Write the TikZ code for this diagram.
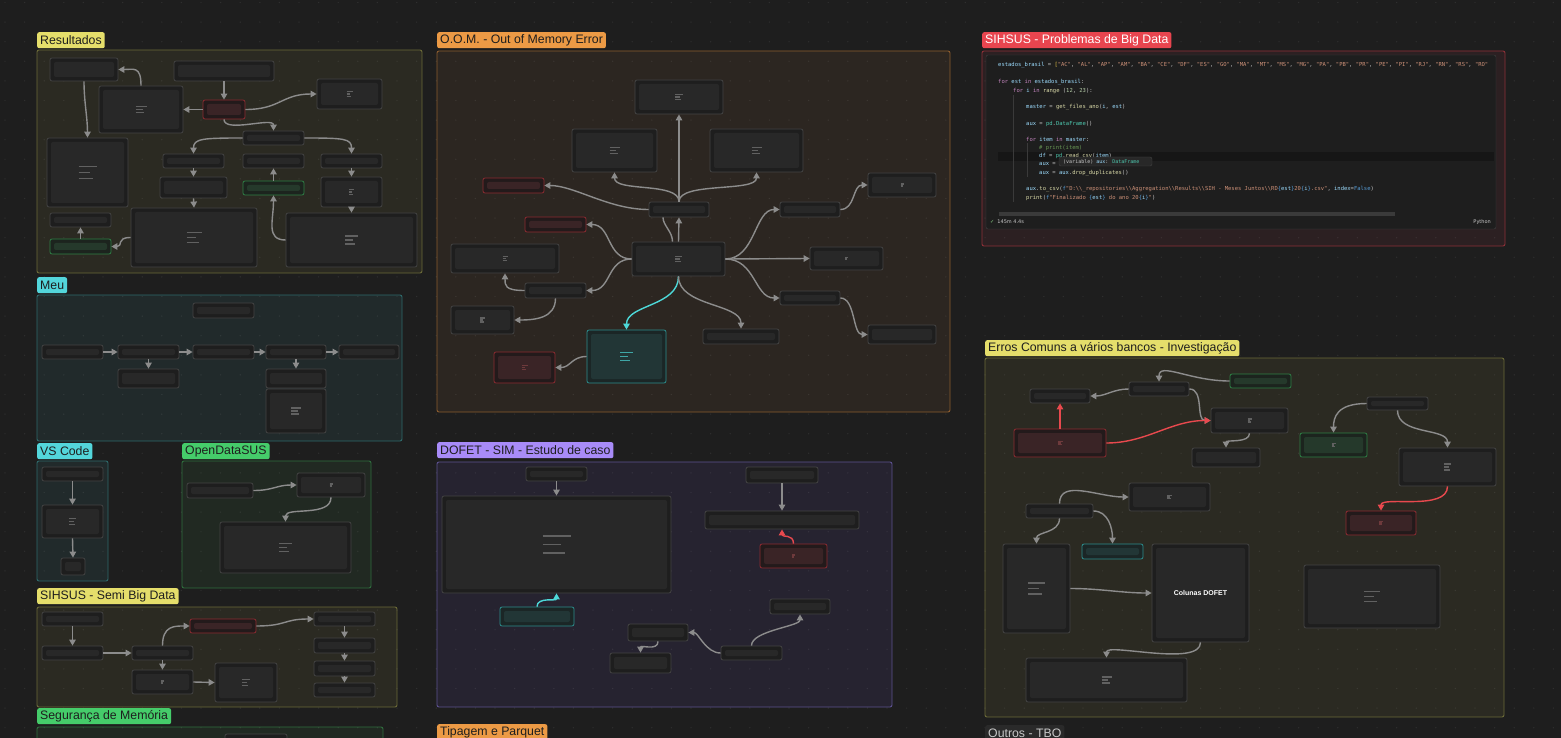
\documentclass[tikz,border=0pt]{standalone}
\usepackage{fontspec}
\setmainfont{Liberation Sans}
\newfontfamily\codemono{DejaVu Sans Mono}
\newfontfamily\dejavu{DejaVu Sans}
\usetikzlibrary{arrows.meta,fit}

\definecolor{canvasBg}{HTML}{1E1E1E}
\definecolor{gYelLine}{HTML}{6B6A38}\definecolor{gYelFill}{HTML}{2B2A22}\definecolor{gYelTag}{HTML}{E5DE6B}\definecolor{gYelTxt}{HTML}{1E1E1E}
\definecolor{gCynLine}{HTML}{2E6A6C}\definecolor{gCynFill}{HTML}{212A2B}\definecolor{gCynTag}{HTML}{53D6DB}\definecolor{gCynTxt}{HTML}{1E1E1E}
\definecolor{gGrnLine}{HTML}{2F6E3E}\definecolor{gGrnFill}{HTML}{212922}\definecolor{gGrnTag}{HTML}{45CC6A}\definecolor{gGrnTxt}{HTML}{1E1E1E}
\definecolor{gOrgLine}{HTML}{8C5C2E}\definecolor{gOrgFill}{HTML}{2C2621}\definecolor{gOrgTag}{HTML}{EC9A45}\definecolor{gOrgTxt}{HTML}{1E1E1E}
\definecolor{gRedLine}{HTML}{8E3038}\definecolor{gRedFill}{HTML}{2C2022}\definecolor{gRedTag}{HTML}{E8454F}\definecolor{gRedTxt}{HTML}{FFFFFF}
\definecolor{gPurLine}{HTML}{5C5190}\definecolor{gPurFill}{HTML}{262330}\definecolor{gPurTag}{HTML}{A88BF8}\definecolor{gPurTxt}{HTML}{1E1E1E}
\definecolor{gGryTag}{HTML}{2A2A2A}\definecolor{gGryTxt}{HTML}{C8C8C8}
\definecolor{cGryLine}{HTML}{434343}\definecolor{cGryBand}{HTML}{1E1E1E}\definecolor{cGryIn}{HTML}{282828}
\definecolor{cRedLine}{HTML}{8C2B31}\definecolor{cRedBand}{HTML}{231A1B}\definecolor{cRedIn}{HTML}{3A2426}
\definecolor{cGrnLine}{HTML}{2E7F45}\definecolor{cGrnBand}{HTML}{1C241E}\definecolor{cGrnIn}{HTML}{25392B}
\definecolor{cCynLine}{HTML}{2C8D8D}\definecolor{cCynBand}{HTML}{1B2626}\definecolor{cCynIn}{HTML}{223636}
\definecolor{edgeGry}{HTML}{8C8C8C}\definecolor{edgeRed}{HTML}{E8494E}\definecolor{edgeCyn}{HTML}{4DD8D8}
\definecolor{iconGry}{HTML}{616161}\definecolor{iconRed}{HTML}{6E3A3C}\definecolor{iconCyn}{HTML}{3FA6A6}
\definecolor{codeTxt}{HTML}{C8C8C8}\definecolor{codeKw}{HTML}{C586C0}\definecolor{codeVar}{HTML}{9CDCFE}
\definecolor{codeFn}{HTML}{DCDCAA}\definecolor{codeStr}{HTML}{CE9178}\definecolor{codeNum}{HTML}{B5CEA8}
\definecolor{codeCom}{HTML}{6A9955}\definecolor{codeType}{HTML}{4EC9B0}\definecolor{codeBlue}{HTML}{569CD6}
\definecolor{codeBrk}{HTML}{E8C547}\definecolor{codeLine}{HTML}{161616}\definecolor{codeGuide}{HTML}{3A3A3A}
\definecolor{okGrn}{HTML}{89D185}

\newcommand\pykw[1]{\textcolor{codeKw}{#1}}
\newcommand\pyvar[1]{\textcolor{codeVar}{#1}}
\newcommand\pyfn[1]{\textcolor{codeFn}{#1}}
\newcommand\pystr[1]{\textcolor{codeStr}{#1}}
\newcommand\pynum[1]{\textcolor{codeNum}{#1}}
\newcommand\pycom[1]{\textcolor{codeCom}{#1}}
\newcommand\pytype[1]{\textcolor{codeType}{#1}}
\newcommand\pyblue[1]{\textcolor{codeBlue}{#1}}
\newcommand\dbs{\textbackslash\textbackslash{}}

\newcommand\notes[4][iconGry]{%
  \draw[#1, line width=1.2pt] ([shift={(-#3/2,-#4)}]#2.center) -- ++(#3,0)
    ([shift={(-#3/2,0)}]#2.center) -- ++(0.65*#3,0)
    ([shift={(-#3/2,#4)}]#2.center) -- ++(0.8*#3,0);}

\tikzset{
  group/.style={draw=g#1Line, fill=g#1Fill, line width=0.9pt, rounded corners=2pt, inner sep=0pt},
  tag/.style={fill=g#1Tag, text=g#1Txt, rounded corners=2pt, anchor=north west, inner xsep=3pt,
    inner ysep=0pt, minimum height=16pt, font=\fontsize{12.3}{13}\selectfont},
  card/.style={draw=c#1Line, fill=c#1Band, line width=0.8pt, rounded corners=2pt, inner sep=0pt,
    path picture={\fill[c#1In] ([shift={(4pt,-4pt)}]path picture bounding box.north west)
      rectangle ([shift={(-4pt,4pt)}]path picture bounding box.south east);}},
  card/.default=Gry,
  conn/.style={draw=edgeGry, line width=1.4pt, -{Triangle[length=6pt,width=6.5pt]}},
  redconn/.style={conn, draw=edgeRed},
  cynconn/.style={conn, draw=edgeCyn},
  codebox/.style={draw=cGryLine, fill=canvasBg, rounded corners=2pt, inner sep=0pt},
  codetxt/.style={anchor=base west, inner sep=0pt, text=codeTxt, font=\fontsize{5.5}{6}\codemono},
  gdot/.style={fill=white, fill opacity=0.08},
}

\begin{document}
\begin{tikzpicture}[x=1pt,y=-1pt]
\useasboundingbox (0,0) rectangle (1561,738);
\fill[canvasBg] (0,0) rectangle (1561,738);

\node[group=Yel, fit={(37,50) (422,273)}] (resG) {};
\node[group=Cyn, fit={(37,295) (402,441)}] (meuG) {};
\node[group=Cyn, fit={(37,461) (108,581)}] (vsG) {};
\node[group=Grn, fit={(182,461) (371,588)}] (odG) {};
\node[group=Yel, fit={(37,607) (397,707)}] (ssG) {};
\node[group=Grn, fit={(37,727) (383,760)}] (smG) {};
\node[group=Org, fit={(437,51) (950,412)}] (oomG) {};
\node[group=Pur, fit={(437,462) (892,707)}] (dofG) {};
\node[group=Red, fit={(982,51) (1505,246)}] (sihG) {};
\node[group=Yel, fit={(985,358) (1504,717)}] (errG) {};

\foreach \i in {0,...,79}
  \foreach \j in {0,...,37}
    \fill[gdot] (5+19.6*\i,2.5+19.6*\j) circle[radius=0.7pt];

\node[tag=Yel] (resL) at (37,32) {Resultados};
\node[tag=Cyn] (meuL) at (37,277) {Meu};
\node[tag=Cyn] (vsL) at (37,443) {VS Code};
\node[tag=Grn] (odL) at (182,443) {OpenDataSUS};
\node[tag=Yel] (ssL) at (37,588) {SIHSUS - Semi Big Data};
\node[tag=Grn] (smL) at (37,708) {Segurança de Memória};
\node[tag=Org] (oomL) at (437,32) {O.O.M. - Out of Memory Error};
\node[tag=Pur] (dofL) at (437,442) {DOFET - SIM - Estudo de caso};
\node[tag=Org] (tipL) at (437,724) {Tipagem e Parquet};
\node[tag=Red] (sihL) at (982,32) {SIHSUS - Problemas de Big Data};
\node[tag=Yel] (errL) at (985,340) {Erros Comuns a vários bancos - Investigação};
\node[tag=Gry] (outL) at (985,725) {Outros - TBO};

\node[card, fit={(50,58) (118,81)}] (rA) {};
\node[card, fit={(174,61) (274,81)}] (rB) {};
\node[card=Red, fit={(203,100) (245,119)}] (rC) {};
\node[card, fit={(99,86) (183,133)}] (rD) {};
\node[card, fit={(317,79) (382,109)}] (rE) {};
\node[card, fit={(243,131) (304,145)}] (rF) {};
\node[card, fit={(47,138) (128,207)}] (rG) {};
\node[card, fit={(163,154) (224,168)}] (rH) {};
\node[card, fit={(243,154) (304,168)}] (rI) {};
\node[card, fit={(321,154) (382,168)}] (rJ) {};
\node[card, fit={(160,177) (227,198)}] (rK) {};
\node[card=Grn, fit={(243,181) (304,195)}] (rL) {};
\node[card, fit={(321,177) (382,207)}] (rM) {};
\node[card, fit={(50,213) (111,227)}] (rN) {};
\node[card=Grn, fit={(50,239) (111,254)}] (rO) {};
\node[card, fit={(131,208) (257,267)}] (rP) {};
\node[card, fit={(286,213) (417,267)}] (rQ) {};
\draw[conn] (rD.north) .. controls +(0,-20) and +(15,0) .. (rA.east);
\draw[conn] (rA.south) .. controls +(0,20) and +(0,-20) .. (rG.north);
\draw[conn] (rB.south) -- (rC.north);
\draw[conn] (rC.west) -- (rD.east);
\draw[conn] (rC.east) .. controls +(35,0) and +(-35,0) .. (rE.west);
\draw[conn] (rC.south) .. controls +(0,14) and +(0,-14) .. (rF.north);
\draw[conn] (rF.west) .. controls +(-40,0) and +(0,-15) .. (rH.north);
\draw[conn] (rF.east) .. controls +(40,0) and +(0,-15) .. (rJ.north);
\draw[conn] (rH.south) -- (rK.north);
\draw[conn] (rK.south) -- (rP.north);
\draw[conn] (rL.north) -- (rI.south);
\draw[conn] (rQ.west) .. controls +(-20,0) and +(0,25) .. (rL.south);
\draw[conn] (rJ.south) -- (rM.north);
\draw[conn] (rM.south) -- (rQ.north);
\draw[conn] (rP.west) .. controls +(-15,0) and +(12,0) .. (rO.east);
\draw[conn] (rO.north) -- (rN.south);
\notes{rD}{11}{3.3}
\notes{rE}{6}{2.5}
\notes{rG}{18}{6}
\notes{rM}{5}{2.5}
\notes{rP}{15}{5}
\notes{rQ}{13}{4}

\node[card, fit={(193,303) (254,318)}] (mA) {};
\node[card, fit={(42,345) (103,359)}] (m1) {};
\node[card, fit={(118,345) (179,359)}] (m2) {};
\node[card, fit={(193,345) (254,359)}] (m3) {};
\node[card, fit={(266,345) (326,359)}] (m4) {};
\node[card, fit={(339,345) (399,359)}] (m5) {};
\node[card, fit={(118,369) (179,388)}] (m2b) {};
\node[card, fit={(266,369) (326,388)}] (m4b) {};
\node[card, fit={(266,389) (326,433)}] (m4c) {};
\draw[conn] (m1.east) -- (m2.west);
\draw[conn] (m2.east) -- (m3.west);
\draw[conn] (m3.east) -- (m4.west);
\draw[conn] (m4.east) -- (m5.west);
\draw[conn] (m2.south) -- (m2b.north);
\draw[conn] (m4.south) -- (m4b.north);
\notes{m4c}{10}{3}

\node[card, fit={(42,467) (103,481)}] (v1) {};
\node[card, fit={(42,505) (103,538)}] (v2) {};
\node[card, fit={(61,558) (85,575)}] (v3) {};
\draw[conn] (v1.south) -- (v2.north);
\draw[conn] (v2.south) -- (v3.north);
\notes{v2}{7}{3}

\node[card, fit={(187,483) (253,498)}] (o1) {};
\node[card, fit={(297,473) (365,497)}] (o2) {};
\node[card, fit={(220,522) (351,573)}] (o3) {};
\draw[conn] (o1.east) .. controls +(20,0) and +(-20,0) .. (o2.west);
\draw[conn] (o2.south) .. controls +(0,20) and +(0,-15) .. (o3.north);
\notes{o2}{3}{1}
\notes{o3}{13}{4}

\node[card, fit={(42,612) (103,626)}] (s1) {};
\node[card, fit={(42,646) (103,660)}] (s2) {};
\node[card, fit={(132,646) (193,660)}] (s3) {};
\node[card=Red, fit={(190,619) (256,633)}] (s4) {};
\node[card, fit={(132,670) (193,694)}] (s5) {};
\node[card, fit={(215,663) (277,702)}] (s6) {};
\node[card, fit={(314,612) (375,626)}] (s7) {};
\node[card, fit={(314,638) (375,653)}] (s8) {};
\node[card, fit={(314,661) (375,676)}] (s9) {};
\node[card, fit={(314,683) (375,697)}] (s10) {};
\draw[conn] (s1.south) -- (s2.north);
\draw[conn] (s2.east) -- (s3.west);
\draw[conn] (s3.north) .. controls +(0,-20) and +(-15,0) .. (s4.west);
\draw[conn] (s3.south) -- (s5.north);
\draw[conn] (s5.east) -- (s6.west);
\draw[conn] (s4.east) .. controls +(30,0) and +(-30,0) .. (s7.west);
\draw[conn] (s7.south) -- (s8.north);
\draw[conn] (s8.south) -- (s9.north);
\draw[conn] (s9.south) -- (s10.north);
\notes{s5}{3}{1}
\notes{s6}{8}{3}

\node[card, fit={(225,734) (287,750)}] (smA) {};

\node[card, fit={(635,80) (723,114)}] (oT1) {};
\node[card, fit={(572,129) (657,172)}] (oT2) {};
\node[card, fit={(710,129) (803,172)}] (oT3) {};
\node[card=Red, fit={(483,178) (544,193)}] (oR1) {};
\node[card, fit={(649,202) (709,217)}] (oHub) {};
\node[card=Red, fit={(525,217) (586,232)}] (oR2) {};
\node[card, fit={(451,244) (559,273)}] (oW1) {};
\node[card, fit={(632,242) (725,276)}] (oC) {};
\node[card, fit={(525,283) (586,298)}] (oS2) {};
\node[card, fit={(451,306) (514,334)}] (oW2) {};
\node[card=Cyn, fit={(587,330) (666,383)}] (oCy) {};
\node[card=Red, fit={(494,352) (555,383)}] (oR3) {};
\node[card, fit={(703,329) (779,344)}] (oB1) {};
\node[card, fit={(780,202) (840,217)}] (oRT1) {};
\node[card, fit={(868,173) (936,197)}] (oRT2) {};
\node[card, fit={(810,247) (883,270)}] (oRM) {};
\node[card, fit={(780,291) (840,305)}] (oRB1) {};
\node[card, fit={(868,325) (936,344)}] (oRB2) {};
\draw[conn] (oHub.north) -- (oT1.south);
\draw[conn] (oHub.north) .. controls +(0,-20) and +(0,20) .. (oT2.south);
\draw[conn] (oHub.north) .. controls +(0,-20) and +(0,20) .. (oT3.south);
\draw[conn] (oHub.west) .. controls +(-40,0) and +(30,0) .. (oR1.east);
\draw[conn] (oC.north) -- (oHub.south);
\draw[draw=edgeGry, line width=1.4pt] ([xshift=-16pt]oHub.south) .. controls +(0,8) and +(0,-10) .. ([xshift=-6pt]oC.north);
\draw[conn] (oC.west) .. controls +(-25,0) and +(25,0) .. (oR2.east);
\draw[conn] (oC.west) .. controls +(-25,0) and +(25,0) .. (oS2.east);
\draw[conn] (oS2.west) .. controls +(-20,0) and +(0,12) .. (oW1.south);
\draw[conn] (oS2.south) .. controls +(0,20) and +(20,0) .. (oW2.east);
\draw[cynconn] (oC.south) .. controls +(0,30) and +(0,-25) .. (oCy.north);
\draw[conn] (oC.south) .. controls +(0,30) and +(0,-25) .. (oB1.north);
\draw[conn] (oCy.west) .. controls +(-15,0) and +(15,0) .. (oR3.east);
\draw[conn] (oC.east) .. controls +(30,0) and +(-25,0) .. (oRT1.west);
\draw[conn] (oC.east) -- (oRM.west);
\draw[conn] (oC.east) .. controls +(30,0) and +(-25,0) .. (oRB1.west);
\draw[conn] (oRT1.east) .. controls +(15,0) and +(-15,0) .. (oRT2.west);
\draw[conn] (oRB1.east) .. controls +(15,0) and +(-15,0) .. (oRB2.west);
\notes{oT1}{7.5}{2.3}
\notes{oT2}{10}{3}
\notes{oT3}{10}{3}
\notes{oW1}{5}{2}
\notes{oC}{7}{2.5}
\notes{oW2}{5}{2}
\notes[iconCyn]{oCy}{13}{4}
\notes[iconRed]{oR3}{6}{2}
\notes{oRT2}{3}{1}
\notes{oRM}{3}{1}

\node[card, fit={(526,467) (587,481)}] (dA) {};
\node[card, fit={(442,496) (671,593)}] (dB) {};
\node[card=Cyn, fit={(500,607) (574,626)}] (dCy) {};
\node[card, fit={(746,467) (818,483)}] (dD) {};
\node[card, fit={(705,511) (859,529)}] (dE) {};
\node[card=Red, fit={(760,544) (827,568)}] (dR) {};
\node[card, fit={(770,599) (830,614)}] (dF) {};
\node[card, fit={(628,624) (688,641)}] (dG) {};
\node[card, fit={(610,653) (671,673)}] (dH) {};
\node[card, fit={(721,646) (782,660)}] (dI) {};
\draw[conn] (dA.south) -- (dB.north);
\draw[conn] (dD.south) -- (dE.north);
\draw[redconn] (dR.north) .. controls +(0,-10) and +(0,8) .. (dE.south);
\draw[cynconn] (dCy.north) .. controls +(0,-10) and +(0,8) .. (dB.south);
\draw[conn] (dI.west) .. controls +(-15,0) and +(10,0) .. (dG.east);
\draw[conn] (dI.north) .. controls +(0,-15) and +(0,12) .. (dF.south);
\draw[conn] (dG.south) .. controls +(0,10) and +(0,-8) .. (dH.north);
\notes{dB}{28}{8.5}
\notes[iconRed]{dR}{3}{1}

\node[card, fit={(1030,389) (1090,403)}] (eA) {};
\node[card, fit={(1129,382) (1189,396)}] (eB) {};
\node[card=Grn, fit={(1230,374) (1291,388)}] (eC) {};
\node[card=Red, fit={(1014,429) (1106,457)}] (eD) {};
\node[card, fit={(1211,408) (1288,433)}] (eE) {};
\node[card, fit={(1192,448) (1260,467)}] (eF) {};
\node[card=Grn, fit={(1300,433) (1367,457)}] (eG) {};
\node[card, fit={(1367,397) (1428,410)}] (eH) {};
\node[card, fit={(1399,448) (1496,486)}] (eI) {};
\node[card=Red, fit={(1346,511) (1416,535)}] (eJ) {};
\node[card, fit={(1129,483) (1210,511)}] (eK) {};
\node[card, fit={(1026,504) (1093,518)}] (eL) {};
\node[card, fit={(1003,544) (1070,633)}] (eM) {};
\node[card=Cyn, fit={(1082,544) (1143,559)}] (eN) {};
\node[card, fit={(1152,544) (1249,642)}] (eO) {};
\node[card, fit={(1026,658) (1187,702)}] (eP) {};
\node[card, fit={(1304,565) (1440,628)}] (eQ) {};
\node[text=white, font=\fontsize{7}{8}\selectfont\bfseries] (eOtxt) at (eO.center) {Colunas DOFET};
\draw[conn] (eC.west) .. controls +(-40,0) and +(0,-20) .. (eB.north);
\draw[conn] (eB.west) .. controls +(-15,0) and +(15,0) .. (eA.east);
\draw[conn] (eB.east) .. controls +(15,0) and +(-15,0) .. (eE.west);
\draw[redconn] (eD.north) -- (eA.south);
\draw[redconn] (eD.east) .. controls +(40,0) and +(-40,0) .. (eE.west);
\draw[conn] (eE.south) .. controls +(0,10) and +(0,-8) .. (eF.north);
\draw[conn] (eH.west) .. controls +(-30,0) and +(0,-15) .. (eG.north);
\draw[conn] (eH.south) .. controls +(0,25) and +(0,-20) .. (eI.north);
\draw[redconn] (eI.south) .. controls +(0,25) and +(0,-15) .. (eJ.north);
\draw[conn] (eL.north) .. controls +(0,-25) and +(-30,0) .. (eK.west);
\draw[conn] (eL.south) .. controls +(0,15) and +(0,-12) .. (eM.north);
\draw[conn] (eL.east) .. controls +(15,0) and +(0,-15) .. (eN.north);
\draw[conn] (eM.east) .. controls +(30,0) and +(-30,0) .. (eO.west);
\draw[conn] (eO.south) .. controls +(0,25) and +(0,-15) .. (eP.north);
\notes[iconRed]{eD}{5}{1.5}
\notes{eE}{4}{1.5}
\notes{eG}{4}{1.5}
\notes{eI}{7}{3}
\notes[iconRed]{eJ}{4}{1.5}
\notes{eK}{5}{1.5}
\notes{eM}{17.5}{5.5}
\notes{eP}{10}{3}
\notes{eQ}{16}{5}

\node[codebox, fit={(986,55) (1496,229)}] (code) {};
\fill[codeLine] (998,152) rectangle (1494,161);
\draw[codeGuide, line width=0.6pt] (1013,95) -- (1013,202) (1027,143) -- (1027,177);
\begin{scope}
\clip (998,55) rectangle (1494,229);
\node[codetxt] (c1) at (998,67) {\pyvar{estados\_brasil} = \textcolor{codeBrk}{[}\pystr{"AC"}, \pystr{"AL"}, \pystr{"AP"}, \pystr{"AM"}, \pystr{"BA"}, \pystr{"CE"}, \pystr{"DF"}, \pystr{"ES"}, \pystr{"GO"}, \pystr{"MA"}, \pystr{"MT"}, \pystr{"MS"}, \pystr{"MG"}, \pystr{"PA"}, \pystr{"PB"}, \pystr{"PR"}, \pystr{"PE"}, \pystr{"PI"}, \pystr{"RJ"}, \pystr{"RN"}, \pystr{"RS"}, \pystr{"RO"}};
\end{scope}
\node[codetxt] (c2) at (998,84) {\pykw{for} \pyvar{est} \pykw{in} \pyvar{estados\_brasil}:};
\node[codetxt] (c3) at (1013,93) {\pykw{for} \pyvar{i} \pykw{in} \pyfn{range} (\pynum{12}, \pynum{23}):};
\node[codetxt] (c4) at (1026,109) {\pyvar{master} = \pyfn{get\_files\_ano}(\pyvar{i}, \pyvar{est})};
\node[codetxt] (c5) at (1026,126) {\pyvar{aux} = \pytype{pd}.\pytype{DataFrame}()};
\node[codetxt] (c6) at (1026,142) {\pykw{for} \pyvar{item} \pykw{in} \pyvar{master}:};
\node[codetxt] (c7) at (1039,150) {\pycom{\# print(item)}};
\node[codetxt] (c8) at (1039,158) {\pyvar{df} = \pytype{pd}.\pyfn{read\_csv}(\pyvar{item})};
\node[codetxt] (c9) at (1039,166) {\pyvar{aux} =};
\node[codetxt] (c10) at (1039,175) {\pyvar{aux} = \pyvar{aux}.\pyfn{drop\_duplicates}()};
\node[codetxt] (c11) at (1026,191) {\pyvar{aux}.\pyfn{to\_csv}(\pyblue{f}\pystr{"D:\dbs\_repositories\dbs Aggregation\dbs Results\dbs SIH - Meses Juntos\dbs RD}\pyblue{\{}\pyvar{est}\pyblue{\}}\pystr{20}\pyblue{\{}\pyvar{i}\pyblue{\}}\pystr{.csv"}, \pyvar{index}=\pyblue{False})};
\node[codetxt] (c12) at (1026,200) {\pyfn{print}(\pyblue{f}\pystr{"Finalizado }\pyblue{\{}\pyvar{est}\pyblue{\}}\pystr{\ do ano 20}\pyblue{\{}\pyvar{i}\pyblue{\}}\pystr{"})};
\node[codebox, fill=cGryIn, fit={(1059,157) (1152,166)}] (tip) {};
\node[codetxt, font=\fontsize{5}{6}\codemono] (tipTxt) at (1063,163.5) {(variable) \pyvar{aux}: \pytype{DataFrame}};
\fill[codeGuide] (999,212) rectangle (1395,216);
\node[codetxt, font=\fontsize{5}{6}\dejavu] (codeOk) at (990,224) {\textcolor{okGrn}{✓}\hspace{3pt}145m 4.4s};
\node[codetxt, anchor=base east, font=\fontsize{5}{6}\dejavu] (codeLang) at (1491,224) {Python};
\end{tikzpicture}
\end{document}
